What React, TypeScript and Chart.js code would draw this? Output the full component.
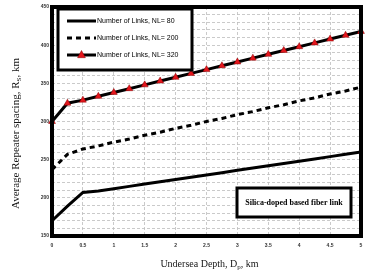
import { useEffect, useRef } from "react";
import { Chart, registerables } from "chart.js";

Chart.register(...registerables);

// ---- data ----
const depthKm = [0, 0.25, 0.5, 0.75, 1, 1.25, 1.5, 1.75, 2, 2.25, 2.5, 2.75, 3, 3.25, 3.5, 3.75, 4, 4.25, 4.5, 4.75, 5];
const spacingNL80 = [170, 189, 207, 209, 212, 215, 218, 221, 224, 227, 230, 233, 236, 239, 242, 245, 248, 251, 254, 257, 260];
const spacingNL200 = [237, 257, 264, 268, 273, 277, 282, 286, 291, 295, 300, 304, 309, 313, 318, 322, 327, 331, 336, 340, 345];
const spacingNL320 = [300, 324, 328, 333, 338, 343, 348, 353, 358, 363, 368, 373, 378, 383, 388, 393, 398, 403, 408, 413, 418];
const seriesLabels = ["Number of Links, NL= 80", "Number of Links, NL= 200", "Number of Links, NL= 320"];
const yTickLabels = [150, 200, 250, 300, 350, 400, 450];
const xTickStep = 0.5;
const yGridStep = 10;
// axis titles: [main, subscript, rest]
const xTitleParts = ["Undersea Depth, D", "p", ", km"];
const yTitleParts = ["Average Repeater spacing, R", "S", ", km"];
const noteText = "Silica-doped based fiber link";

const legendFont = "7px 'Liberation Sans Narrow', 'Liberation Sans', Arial, sans-serif";
const noteFont = "bold 8px 'Liberation Serif', 'Times New Roman', serif";
const serif = "'Liberation Serif', 'Times New Roman', serif";

function drawSubTitle(ctx: CanvasRenderingContext2D, parts: string[], size: number) {
  const main = `${size}px ${serif}`;
  const sub = `${Math.round(size * 0.65)}px ${serif}`;
  ctx.font = main;
  const w0 = ctx.measureText(parts[0]).width;
  const w2 = ctx.measureText(parts[2]).width;
  ctx.font = sub;
  const w1 = ctx.measureText(parts[1]).width;
  const total = w0 + w1 + w2;
  let x = -total / 2;
  ctx.textAlign = "left";
  ctx.textBaseline = "alphabetic";
  ctx.font = main;
  ctx.fillText(parts[0], x, size * 0.35);
  x += w0;
  ctx.font = sub;
  ctx.fillText(parts[1], x, size * 0.35 + size * 0.2);
  x += w1;
  ctx.font = main;
  ctx.fillText(parts[2], x, size * 0.35);
}

const framePlugin = {
  id: "framePlugin",
  afterDraw(chart: any) {
    const { ctx, chartArea } = chart;
    const { left, top, right, bottom } = chartArea;
    ctx.save();

    // legend box (top-left inside plot)
    const bx = left + 6, by = top + 2, bw = 134, bh = 61;
    ctx.fillStyle = "#ffffff";
    ctx.fillRect(bx, by, bw, bh);
    ctx.lineWidth = 3;
    ctx.strokeStyle = "#000";
    ctx.setLineDash([]);
    ctx.strokeRect(bx, by, bw, bh);
    const rows = [by + 12, by + 29, by + 46];
    chart.data.datasets.forEach((ds: any, i: number) => {
      const y = rows[i];
      ctx.save();
      ctx.lineWidth = 3;
      ctx.strokeStyle = "#000";
      ctx.setLineDash(ds.borderDash || []);
      ctx.beginPath();
      ctx.moveTo(bx + 9, y);
      ctx.lineTo(bx + 38, y);
      ctx.stroke();
      ctx.setLineDash([]);
      if (ds.pointRadius > 0) {
        const cx = bx + 23.5, r = 4.5;
        ctx.beginPath();
        ctx.moveTo(cx, y - r);
        ctx.lineTo(cx + r * 0.87, y + r * 0.6);
        ctx.lineTo(cx - r * 0.87, y + r * 0.6);
        ctx.closePath();
        ctx.fillStyle = ds.pointBackgroundColor;
        ctx.fill();
        ctx.lineWidth = 0.5;
        ctx.strokeStyle = ds.pointBorderColor;
        ctx.stroke();
      }
      ctx.fillStyle = "#000";
      ctx.font = legendFont;
      ctx.textAlign = "left";
      ctx.textBaseline = "middle";
      ctx.fillText(ds.label, bx + 39, y);
      ctx.restore();
    });

    // note box (bottom-right inside plot)
    const nw = 114, nh = 29;
    const nx = right - 10 - nw, ny = bottom - 19 - nh;
    ctx.fillStyle = "#ffffff";
    ctx.fillRect(nx, ny, nw, nh);
    ctx.lineWidth = 3;
    ctx.strokeStyle = "#000";
    ctx.strokeRect(nx, ny, nw, nh);
    ctx.fillStyle = "#000";
    ctx.font = noteFont;
    ctx.textAlign = "center";
    ctx.textBaseline = "middle";
    ctx.fillText(noteText, nx + nw / 2, ny + nh / 2);

    // thick plot frame
    ctx.lineWidth = 4;
    ctx.strokeStyle = "#000";
    ctx.strokeRect(left, top, right - left, bottom - top);

    // axis titles with subscripts
    ctx.fillStyle = "#151515";
    ctx.save();
    ctx.translate(left + (right - left) / 2 + 3, chart.height - 15);
    drawSubTitle(ctx, xTitleParts, 10);
    ctx.restore();
    ctx.save();
    ctx.translate(15, top + (bottom - top) / 2 + 12);
    ctx.rotate(-Math.PI / 2);
    drawSubTitle(ctx, yTitleParts, 11);
    ctx.restore();

    ctx.restore();
  },
};

export default function App() {
  const canvasRef = useRef<HTMLCanvasElement | null>(null);

  useEffect(() => {
    const canvas = canvasRef.current;
    if (!canvas) return;
    const toPts = (vals: number[]) => vals.map((v, i) => ({ x: depthKm[i], y: v }));
    const tickFont = { family: "'Liberation Sans Narrow', 'Liberation Sans', Arial", size: 5, weight: "bold" as const };
    const chart = new Chart(canvas, {
      type: "line",
      data: {
        datasets: [
          {
            label: seriesLabels[0],
            data: toPts(spacingNL80),
            borderColor: "#000",
            borderWidth: 3,
            pointRadius: 0,
            tension: 0,
          },
          {
            label: seriesLabels[1],
            data: toPts(spacingNL200),
            borderColor: "#000",
            borderWidth: 3,
            borderDash: [5, 4],
            pointRadius: 0,
            tension: 0,
          },
          {
            label: seriesLabels[2],
            data: toPts(spacingNL320),
            borderColor: "#000",
            borderWidth: 3,
            pointRadius: 4,
            pointStyle: "triangle",
            pointBackgroundColor: "#e3161d",
            pointBorderColor: "#8a0000",
            pointBorderWidth: 0.5,
            tension: 0,
            clip: 6,
          },
        ] as any,
      },
      options: {
        animation: false,
        responsive: true,
        maintainAspectRatio: false,
        layout: { padding: { top: 7, right: 10, left: 0, bottom: 0 } },
        plugins: { legend: { display: false }, tooltip: { enabled: false } },
        scales: {
          x: {
            type: "linear",
            min: 0,
            max: 5,
            afterFit: (s: any) => { s.height = 42; },
            ticks: {
              stepSize: xTickStep,
              padding: 7,
              color: "#333",
              autoSkip: false,
              maxRotation: 0,
              font: tickFont,
              callback: (v: any) => String(Number(v)),
            },
            grid: { color: "#bdbdbd", lineWidth: 0.8, drawTicks: false },
            border: { display: false, dash: [3, 2] },
          },
          y: {
            type: "linear",
            min: yTickLabels[0],
            max: yTickLabels[yTickLabels.length - 1],
            afterFit: (s: any) => { s.width = 52; },
            ticks: {
              stepSize: yGridStep,
              padding: 3,
              color: "#333",
              autoSkip: false,
              font: tickFont,
              callback: (v: any) => (yTickLabels.includes(Number(v)) ? String(v) : ""),
            },
            grid: { color: "#bdbdbd", lineWidth: 0.8, drawTicks: false },
            border: { display: false, dash: [3, 2] },
          },
        },
      },
      plugins: [framePlugin],
    });
    return () => chart.destroy();
  }, []);

  return (
    <div style={{ position: "fixed", left: 0, top: 0, width: 371, height: 278, background: "#fff" }}>
      <canvas ref={canvasRef} />
    </div>
  );
}
